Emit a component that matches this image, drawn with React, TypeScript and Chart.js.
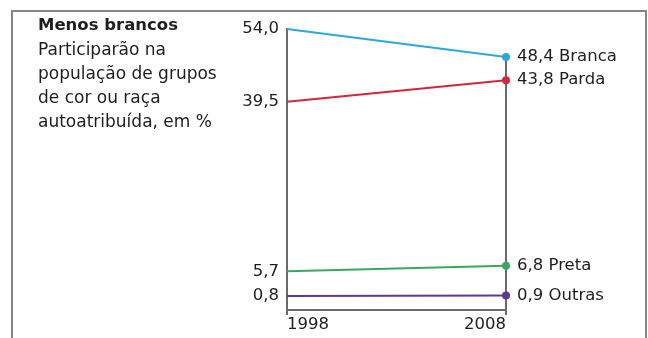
import React, { useEffect, useRef } from "react";
import { Chart, registerables } from "chart.js";

Chart.register(...registerables);

const years = [1998, 2008];
const groups = ["Branca", "Parda", "Preta", "Outras"];
const values1998 = [54.0, 39.5, 5.7, 0.8];
const values2008 = [48.4, 43.8, 6.8, 0.9];
const colors = ["#2aa8e0", "#d2283e", "#3aa862", "#5a3a96"];
const titleText = "Menos brancos";
const subtitleLines = [
  "Participarão na",
  "população de grupos",
  "de cor ou raça",
  "autoatribuída, em %",
];
const yMin = -2;
const yMax = 54;

const fmt = (v: number) => v.toFixed(1).replace(".", ",");
const AXIS = "#6a6a6a";
const TEXT = "#1e1e1e";
const FONT = "'DejaVu Sans', sans-serif";

export default function App() {
  const ref = useRef<HTMLCanvasElement | null>(null);

  useEffect(() => {
    if (!ref.current) return;
    const datasets: any[] = groups.map((g, i) => ({
      label: g,
      data: [
        { x: years[0], y: values1998[i] },
        { x: years[1], y: values2008[i] },
      ],
      borderColor: colors[i],
      backgroundColor: colors[i],
      borderWidth: 2,
      pointRadius: [0, 4],
      pointBorderWidth: 0,
      clip: false,
    }));
    datasets.push({
      label: "axis2008",
      data: [
        { x: years[1], y: values2008[0] },
        { x: years[1], y: yMin },
      ],
      borderColor: AXIS,
      borderWidth: 2,
      pointRadius: 0,
      clip: false,
    });

    const chart = new Chart(ref.current, {
      type: "line",
      data: { datasets },
      options: {
        animation: false,
        responsive: false,
        devicePixelRatio: 1,
        layout: { padding: { top: 29, left: 0, right: 0, bottom: 0 } },
        plugins: { legend: { display: false }, tooltip: { enabled: false } },
        scales: {
          x: {
            type: "linear",
            min: years[0],
            max: years[1],
            afterBuildTicks: (s: any) => {
              s.ticks = years.map((v) => ({ value: v }));
            },
            afterFit: (s: any) => {
              s.height = 28;
            },
            ticks: {
              autoSkip: false,
              align: "inner",
              maxRotation: 0,
              padding: 0,
              color: TEXT,
              font: { family: FONT, size: 16.5 },
              callback: (v: any) => String(v),
            },
            grid: {
              drawOnChartArea: false,
              drawTicks: true,
              tickLength: 5,
              color: AXIS,
              lineWidth: 2,
            },
            border: { display: true, color: AXIS, width: 2 },
          },
          y: {
            type: "linear",
            position: "left",
            min: yMin,
            max: yMax,
            afterBuildTicks: (s: any) => {
              s.ticks = values1998.map((v) => ({ value: v }));
            },
            afterFit: (s: any) => {
              s.width = 287;
            },
            ticks: {
              autoSkip: false,
              padding: 8,
              color: TEXT,
              font: { family: FONT, size: 16.5 },
              callback: (v: any) => fmt(Number(v)),
            },
            grid: { display: false, drawTicks: false },
            border: { display: true, color: AXIS, width: 2 },
          },
          y2: {
            type: "linear",
            position: "right",
            min: yMin,
            max: yMax,
            afterBuildTicks: (s: any) => {
              s.ticks = values2008.map((v) => ({ value: v }));
            },
            afterFit: (s: any) => {
              s.width = 142;
            },
            ticks: {
              autoSkip: false,
              padding: 11,
              color: TEXT,
              font: { family: FONT, size: 16.5 },
              callback: (v: any) => {
                const i = values2008.indexOf(Number(v));
                return `${fmt(Number(v))} ${groups[i]}`;
              },
            },
            grid: { display: false, drawTicks: false },
            border: { display: false },
          },
        },
      },
    });
    return () => chart.destroy();
  }, []);

  return (
    <div
      style={{
        position: "absolute",
        left: 0,
        top: 0,
        width: 648,
        height: 338,
        overflow: "hidden",
        background: "#ffffff",
      }}
    >
      <canvas
        ref={ref}
        width={648}
        height={338}
        style={{ position: "absolute", left: 0, top: 0, display: "block" }}
      />
      <div
        style={{
          position: "absolute",
          left: 11,
          top: 10,
          width: 636,
          height: 340,
          border: "2px solid #858585",
          boxSizing: "border-box",
          pointerEvents: "none",
        }}
      />
      <div
        style={{
          position: "absolute",
          left: 38,
          top: 13,
          fontFamily: FONT,
          color: TEXT,
          lineHeight: "24px",
        }}
      >
        <div style={{ fontWeight: "bold", fontSize: 16.5 }}>{titleText}</div>
        {subtitleLines.map((l) => (
          <div key={l} style={{ fontSize: 17 }}>
            {l}
          </div>
        ))}
      </div>
    </div>
  );
}
